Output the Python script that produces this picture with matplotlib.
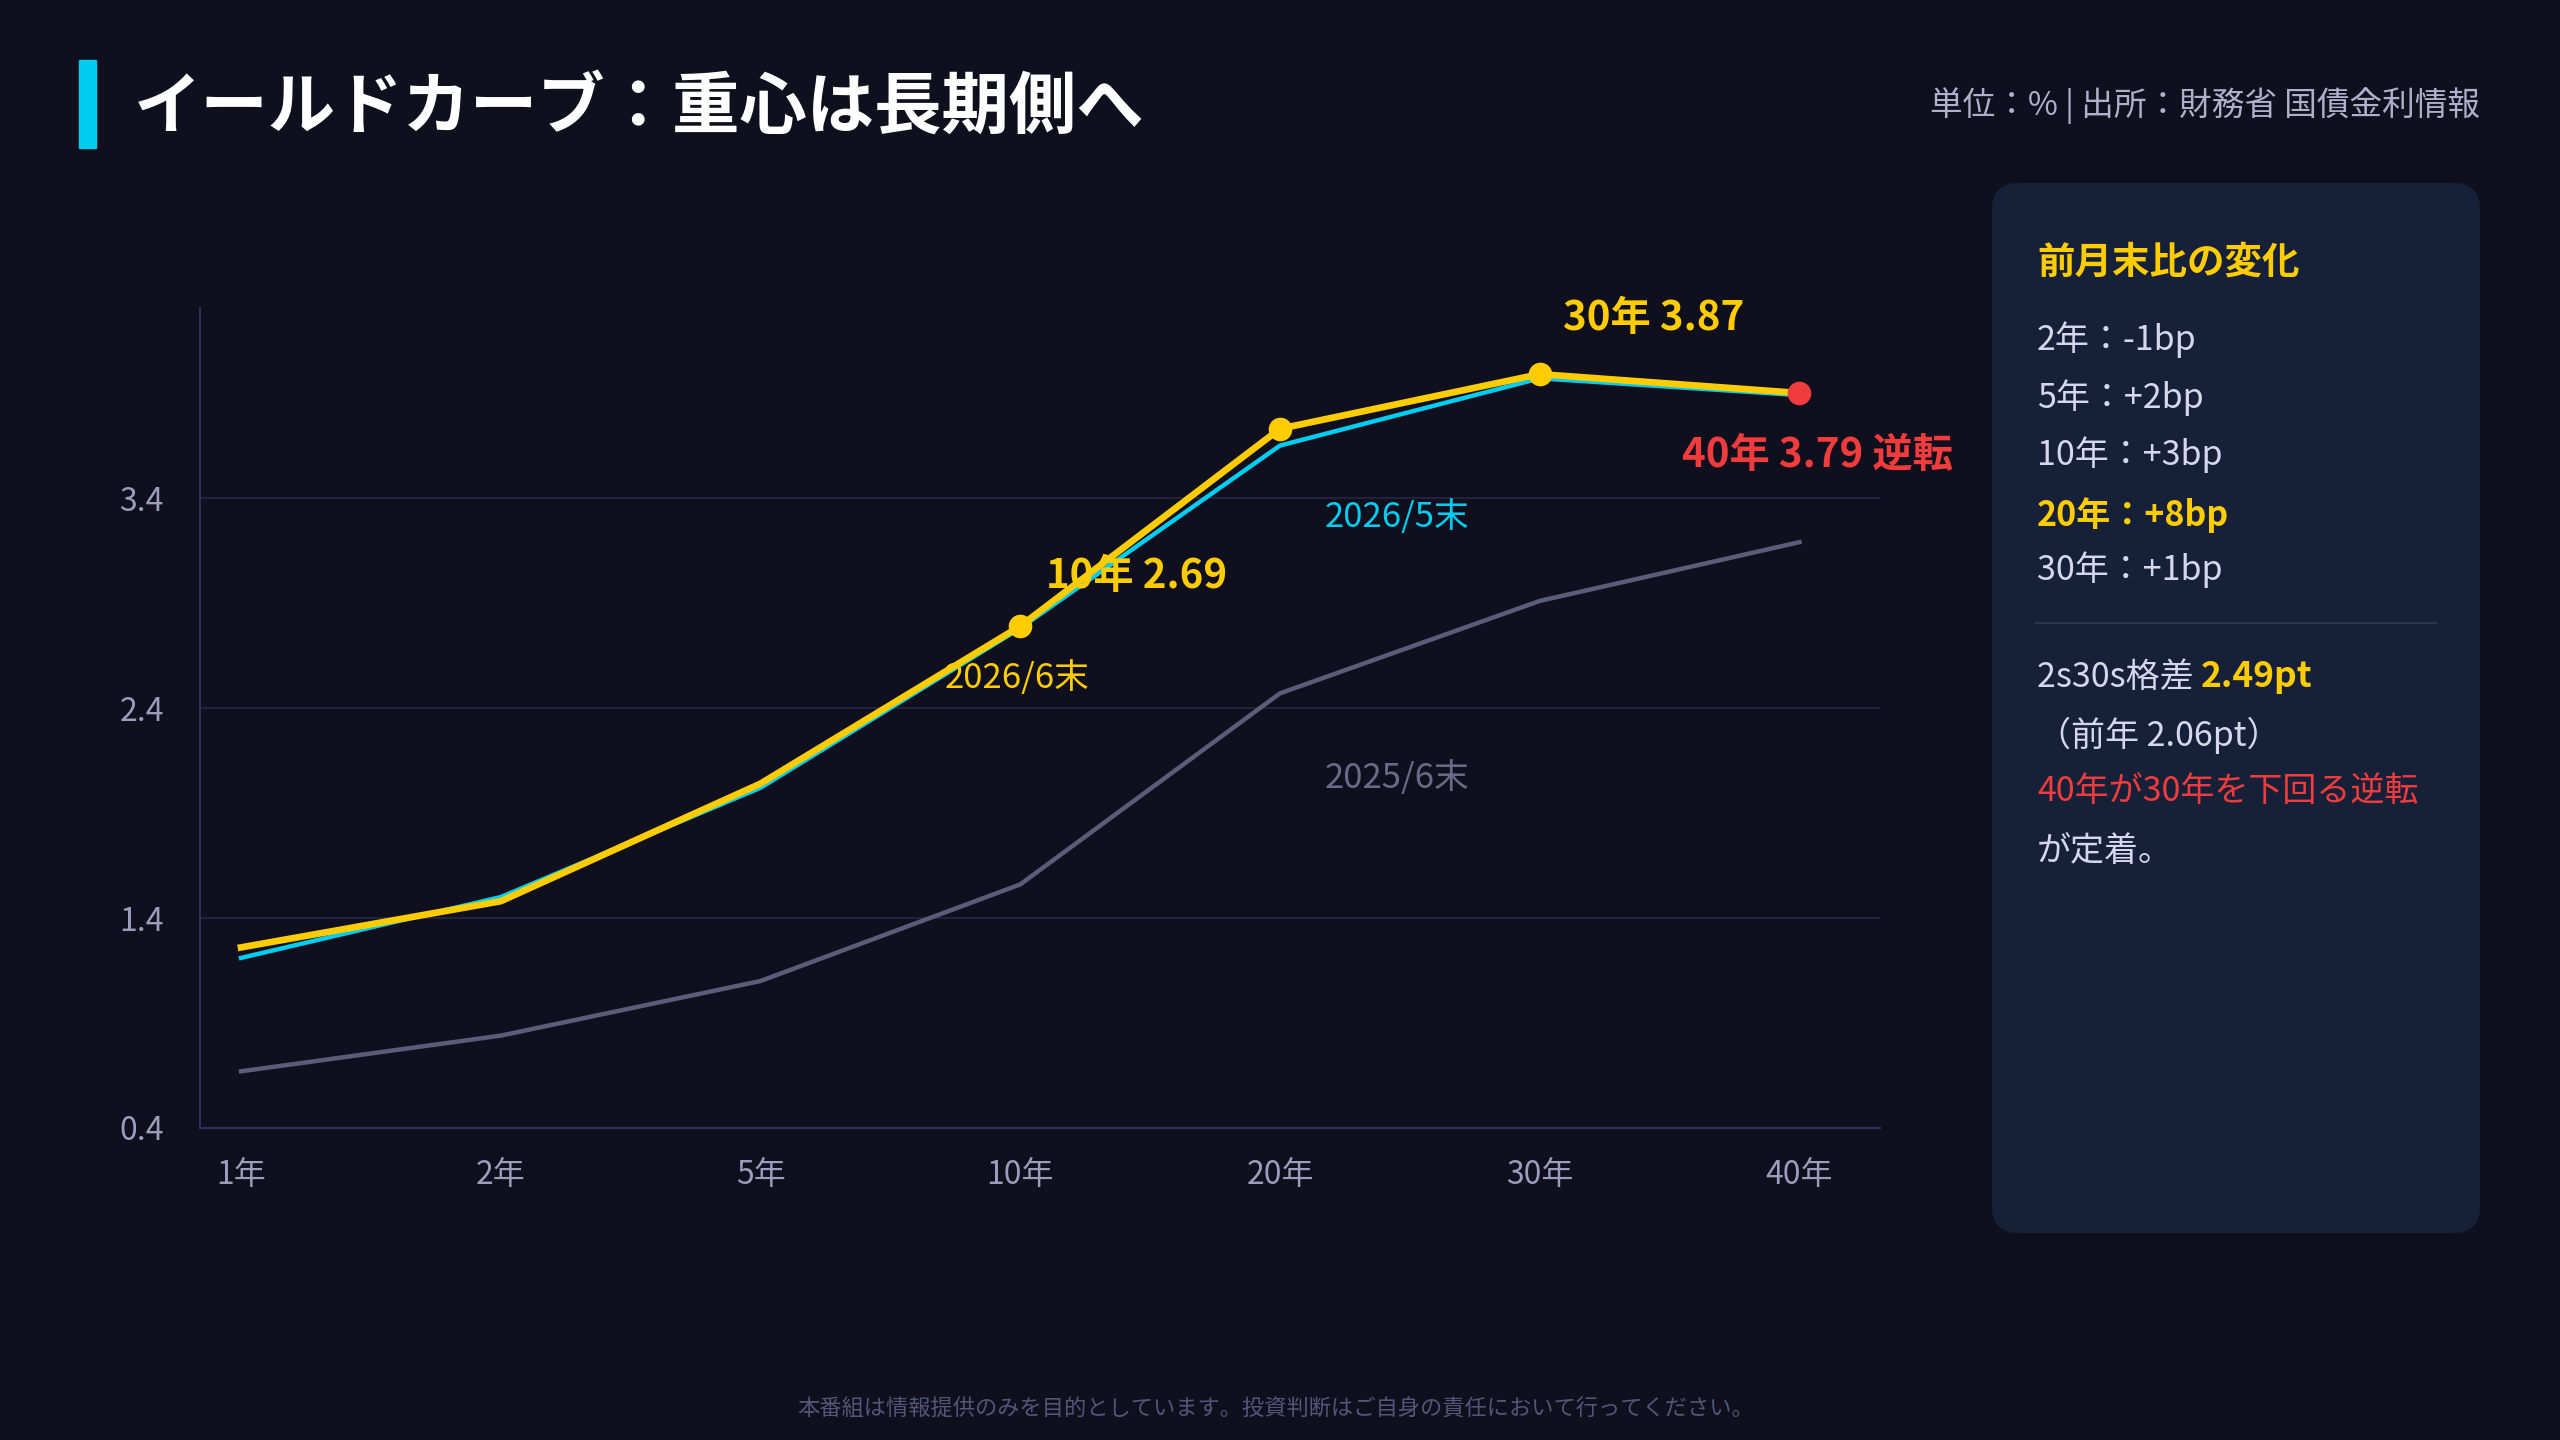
import matplotlib
matplotlib.use('Agg')
import matplotlib.pyplot as plt
from matplotlib.patches import FancyBboxPatch, Rectangle

plt.rcParams['font.family'] = ['Noto Sans CJK JP', 'DejaVu Sans']
plt.rcParams['axes.unicode_minus'] = False

# データ
tenors = ['1年', '2年', '5年', '10年', '20年', '30年', '40年']
y_2026_6 = [1.26, 1.48, 2.04, 2.79, 3.73, 3.99, 3.90]
y_2026_5 = [1.21, 1.50, 2.02, 2.78, 3.65, 3.97, 3.89]
y_2025_6 = [0.67, 0.84, 1.10, 1.56, 2.47, 2.91, 3.19]
y_ticks = [0.4, 1.4, 2.4, 3.4]
changes = ['2年：-1bp', '5年：+2bp', '10年：+3bp', '20年：+8bp', '30年：+1bp']

BG = '#0f0f1e'
PANEL = '#172039'
YELLOW = '#ffcc00'
CYAN = '#00ccf0'
GRAY = '#5c5c7a'
RED = '#f03c3c'
LIGHT = '#d6d6ee'
TICK = '#9c9cbc'

W, H = 2560, 1440
fig = plt.figure(figsize=(25.6, 14.4), dpi=100, facecolor=BG)

# タイトル
fig.patches.append(Rectangle((79 / W, 1 - 148 / H), 17 / W, 88 / H,
                             transform=fig.transFigure, color=CYAN))
fig.text(134 / W, 1 - 108 / H, 'イールドカーブ：重心は長期側へ', color='white',
         fontsize=48.5, fontweight='bold', va='center', ha='left')
fig.text(2480 / W, 1 - 106 / H, '単位：% | 出所：財務省 国債金利情報', color='#b0b0cc',
         fontsize=23.5, va='center', ha='right')
fig.text(1276 / W, 1 - 1409 / H,
         '本番組は情報提供のみを目的としています。投資判断はご自身の責任において行ってください。',
         color='#55557a', fontsize=16, va='center', ha='center')

# メインチャート
ax = fig.add_axes([200 / W, 1 - 1128 / H, 1680 / W, 820 / H])
ax.set_facecolor(BG)
x = list(range(len(tenors)))

ax.plot(x, y_2025_6, color=GRAY, lw=3.2, zorder=2, solid_joinstyle='round')
ax.plot(x, y_2026_5, color=CYAN, lw=3.2, zorder=3, solid_joinstyle='round')
ax.plot(x, y_2026_6, color=YELLOW, lw=4.8, zorder=4, solid_joinstyle='round',
        marker='o', markevery=[3, 4, 5], markersize=16)
ax.plot([x[6]], [y_2026_6[6]], 'o', color=RED, markersize=16, zorder=5)

ax.set_xlim(-0.158, 6.31)
ax.set_ylim(0.4, 4.305)
ax.set_xticks(x)
ax.set_xticklabels(tenors)
ax.set_yticks(y_ticks)
ax.set_yticklabels([f'{v:.1f}' for v in y_ticks])
ax.tick_params(axis='both', length=0, colors=TICK, labelsize=23)
ax.tick_params(axis='y', pad=26)
ax.tick_params(axis='x', pad=22)
ax.grid(axis='y', color='#262646', lw=1.2)
ax.set_axisbelow(True)
for s in ['top', 'right']:
    ax.spines[s].set_visible(False)
for s in ['left', 'bottom']:
    ax.spines[s].set_color('#30305a')
    ax.spines[s].set_linewidth(1.5)

# 注記
ax.annotate('30年 3.87', xy=(5, y_2026_6[5]), xytext=(82, 40), textcoords='offset points',
            color=YELLOW, fontsize=29, fontweight='bold', ha='center', va='center')
ax.annotate('10年 2.69', xy=(3, y_2026_6[3]), xytext=(84, 36), textcoords='offset points',
            color=YELLOW, fontsize=29, fontweight='bold', ha='center', va='center', zorder=6)
ax.annotate('40年 3.79 逆転', xy=(6, y_2026_6[6]), xytext=(13, -45), textcoords='offset points',
            color=RED, fontsize=29, fontweight='bold', ha='center', va='center',
            annotation_clip=False)
ax.annotate('2026/5末', xy=(4, y_2026_5[4]), xytext=(84.6, -52), textcoords='offset points',
            color=CYAN, fontsize=25, ha='center', va='center')
ax.annotate('2025/6末', xy=(4, y_2025_6[4]), xytext=(84.6, -61), textcoords='offset points',
            color='#6a6a88', fontsize=25, ha='center', va='center')
ax.annotate('2026/6末', xy=(3, y_2026_6[3]), xytext=(-2, -38), textcoords='offset points',
            color=YELLOW, fontsize=25, ha='center', va='center', zorder=6)

# 右パネル
pw, ph = 488, 1050
pax = fig.add_axes([1992 / W, 1 - 1233 / H, pw / W, ph / H])
pax.set_xlim(0, pw)
pax.set_ylim(ph, 0)
pax.axis('off')
pax.add_patch(FancyBboxPatch((0, 0), pw, ph, boxstyle='round,pad=0,rounding_size=26',
                             facecolor=PANEL, edgecolor='none'))
pax.text(45, 79, '前月末比の変化', color=YELLOW, fontsize=27, fontweight='bold', va='center')
row_y = [157, 214.6, 272, 331.6, 386.6]
for label, yy in zip(changes, row_y):
    hl = label.startswith('20年')
    pax.text(45, yy, label, color=YELLOW if hl else LIGHT, fontsize=24.5,
             fontweight='bold' if hl else 'normal', va='center')
pax.plot([44, 444], [439.7, 439.7], color='#2e3450', lw=1.5)
t1 = pax.text(45, 494, '2s30s格差 ', color=LIGHT, fontsize=24.5, va='center')
pax.annotate('2.49pt', xy=(1, 0.5), xycoords=t1, color=YELLOW, fontsize=25.5,
             fontweight='bold', va='center', ha='left')
pax.text(45, 552, '（前年 2.06pt）', color=LIGHT, fontsize=24.5, va='center')
pax.text(45, 609, '40年が30年を下回る逆転', color=RED, fontsize=24.5, va='center')
pax.text(45, 669, 'が定着。', color=LIGHT, fontsize=24.5, va='center')

fig.savefig('out.png', dpi=100, facecolor=BG)
